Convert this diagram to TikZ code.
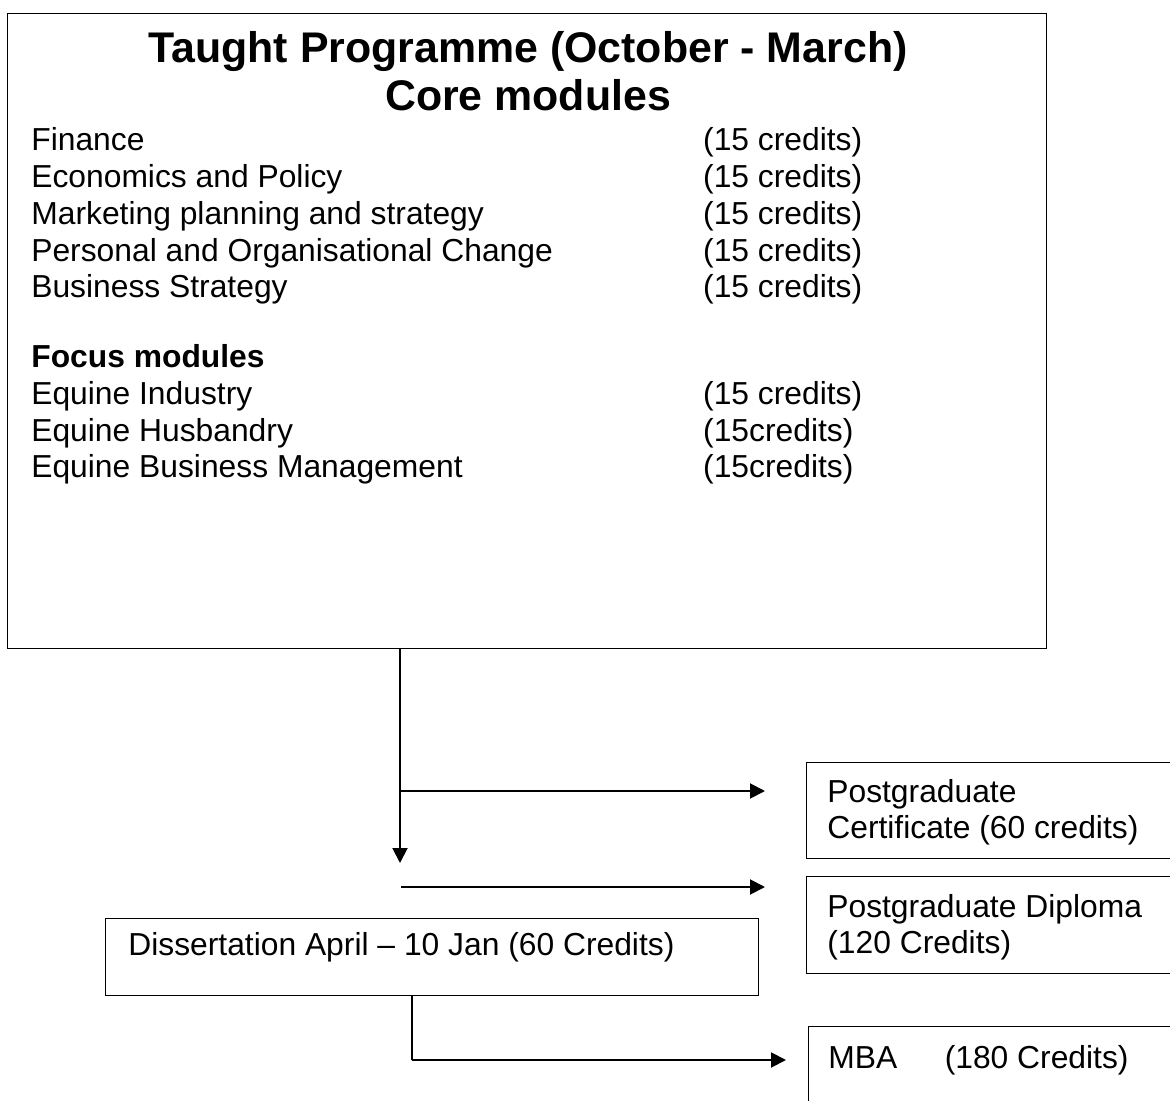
\documentclass[tikz,border=0pt]{standalone}
\usepackage{fontspec}
\setmainfont{Liberation Sans}
\usetikzlibrary{arrows.meta}

\newcommand\bodysize{\fontsize{18.1}{20.9}\selectfont}
\newcommand\titlesize{\fontsize{24.4}{27.3}\selectfont}

\tikzset{
  box/.style={draw,line width=0.7pt,inner sep=0pt,anchor=north west},
  txt/.style={inner sep=0pt,font=\bodysize,anchor=base west},
  arr/.style={line width=1.1pt,-{Triangle[length=0.3cm,width=0.3cm]}}
}

\begin{document}
\begin{tikzpicture}[x=0.02cm,y=-0.02cm]
\useasboundingbox (0,0) rectangle (1170,1101);
\clip (0,0) rectangle (1170,1101);

% Taught programme box
\node[box,minimum width=20.78cm,minimum height=12.7cm] (taught) at (7,13) {};
\node[inner sep=0pt,font=\titlesize\bfseries,anchor=base] (title) at (528,63)
  {\begin{tabular}[t]{@{}c@{}}Taught Programme (October - March)\\Core modules\end{tabular}};
\node[txt] (modules) at (31,151) {\begin{tabular}[t]{@{}p{13.44cm}@{}l@{}}
Finance & (15 credits)\\
Economics and Policy & (15 credits)\\
Marketing planning and strategy & (15 credits)\\
Personal and Organisational Change & (15 credits)\\
Business Strategy & (15 credits)\\[18.9pt]
\textbf{Focus modules} & \\
Equine Industry & (15 credits)\\
Equine Husbandry & (15credits)\\
Equine Business Management & (15credits)
\end{tabular}};

% Award boxes
\node[box,minimum width=7.7cm,minimum height=1.92cm] (cert) at (806,762) {};
\node[txt] (certtext) at (827,802)
  {\begin{tabular}[t]{@{}l@{}}Postgraduate\\Certificate (60 credits)\end{tabular}};
\node[box,minimum width=7.7cm,minimum height=1.94cm] (dipl) at (806,876) {};
\node[txt] (dipltext) at (827,917)
  {\begin{tabular}[t]{@{}l@{}}Postgraduate Diploma\\(120 Credits)\end{tabular}};
\node[box,minimum width=7.7cm,minimum height=2cm] (mba) at (808,1026) {};
\node[txt] (mbatext) at (828,1068) {MBA\hspace{0.95cm}(180 Credits)};

% Dissertation box
\node[box,line width=0.6pt,minimum width=13.06cm,minimum height=1.54cm] (diss) at (105,918) {};
\node[txt] (disstext) at (128,955) {Dissertation April – 10 Jan (60 Credits)};

% Arrows
\coordinate (split) at (400,863);
\coordinate (certin) at (765,791);
\coordinate (diplfrom) at (401,887);
\coordinate (diplin) at (765,887);
\coordinate (turn) at (412,1060);
\coordinate (mbain) at (786,1060);
\draw[arr] (taught.south -| split) -- (split);
\draw[arr] (split |- certin) -- (certin);
\draw[arr] (diplfrom) -- (diplin);
\draw[line width=0.6pt] (diss.south -| turn) -- (turn);
\draw[arr] (turn) -- (mbain);

\end{tikzpicture}
\end{document}
